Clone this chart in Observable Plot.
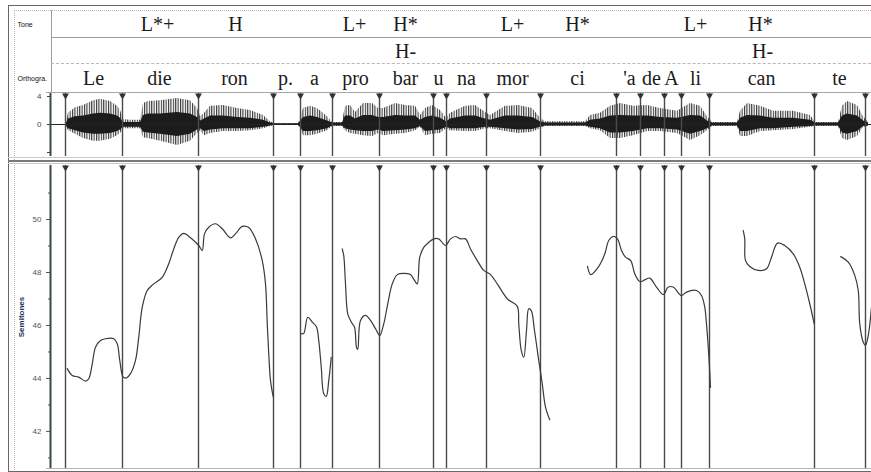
<!DOCTYPE html>
<html><head><meta charset="utf-8">
<script src="https://cdn.jsdelivr.net/npm/d3@7"></script>
<script src="https://cdn.jsdelivr.net/npm/@observablehq/plot@0.6"></script>
<style>
body{margin:0;background:#fff;}
#root{position:relative;width:871px;height:472px;overflow:hidden;font-family:"Liberation Sans",Arial,sans-serif;background:#fff;}
.abs{position:absolute;}
</style></head><body><div id="root"></div>
<script>
// ---- time in ms ----
const boundaries = [60,288,592,892,1000,1128,1316,1532,1584,1744,1960,2264,2360,2456,2524,2636,3056,3260];

const toneLabels = ["L*+","H","L+","H*","L+","H*","L+","H*"];
const toneTimes  = [428,740,1216,1420,1848,2108,2580,2840];
const phraseLabels = ["H-","H-"];
const phraseTimes  = [1420,2848];
const syllables = ["Le","die","ron","p.","a","pro","bar","u","na","mor","ci","'a","de","A","li","can","te"];
const syllableTimes = [172,436,736,940,1056,1220,1420,1552,1664,1848,2108,2316,2404,2484,2580,2844,3156];

const tierNames = ["Tone","Phrase","Orthogr."];
const tierAxisLabels = ["Tone","","Orthogra."];

// waveform envelope (amplitude units)
const waveT = [64,72,100,132,172,200,240,268,280,292,320,360,372,392,440,508,560,588,600,616,640,692,748,800,852,880,900,992,1012,1040,1068,1108,1128,1168,1180,1200,1220,1252,1288,1312,1332,1380,1420,1460,1480,1500,1528,1560,1584,1600,1660,1700,1740,1760,1820,1872,1928,1960,1980,2140,2160,2200,2240,2280,2332,2388,2440,2508,2560,2600,2628,2648,2748,2760,2788,2840,2892,2972,3040,3060,3152,3168,3188,3228,3252,3272];
const waveHi = [0.4,1.6,2.4,2.7,3.4,3.6,3.3,2.6,2.0,0.7,0.6,0.6,3.0,3.3,3.4,3.7,3.4,2.3,1.1,1.6,2.6,2.7,2.3,2.0,1.3,0.4,0.1,0.1,2.3,2.6,2.3,1.1,0.3,0.3,2.6,2.7,1.7,3.0,3.0,2.3,2.3,3.0,2.7,2.6,1.3,2.3,2.7,2.0,0.9,1.6,2.6,2.7,1.7,1.3,2.6,2.7,2.3,0.9,0.4,0.4,1.3,1.6,2.6,3.0,2.6,2.7,2.3,1.9,3.0,2.6,1.1,0.3,0.3,1.9,3.0,2.6,1.9,1.9,1.3,0.3,0.3,2.6,3.3,2.7,1.1,0.3];
const waveLo = [-0.4,-0.9,-1.4,-2.0,-2.4,-2.4,-2.1,-1.6,-1.3,-0.6,-0.6,-0.6,-1.9,-2.0,-2.4,-3.0,-2.4,-1.3,-0.9,-1.6,-1.3,-1.0,-1.0,-0.9,-0.6,-0.3,-0.1,-0.1,-1.6,-1.6,-1.4,-0.9,-0.3,-0.3,-0.9,-1.3,-1.4,-1.6,-1.7,-1.3,-1.6,-1.4,-1.3,-0.9,-0.4,-1.6,-1.4,-1.3,-0.6,-0.9,-1.0,-1.0,-0.6,-0.6,-1.0,-1.3,-1.1,-0.6,-0.3,-0.3,-0.6,-0.9,-2.0,-2.0,-1.6,-1.0,-1.0,-1.3,-2.3,-1.6,-0.9,-0.3,-0.3,-1.7,-1.7,-1.0,-0.9,-0.7,-0.4,-0.3,-0.3,-2.0,-2.3,-1.7,-0.4,-0.3];
const coreHi = [0.2,0.8,1.1,1.2,1.5,1.6,1.5,1.2,0.9,0.3,0.3,0.3,1.3,1.5,1.5,1.7,1.5,1.0,0.5,0.8,1.2,1.2,1.0,0.9,0.6,0.2,0.1,0.1,1.0,1.2,1.0,0.5,0.2,0.2,1.2,1.2,0.8,1.3,1.3,1.0,1.0,1.3,1.2,1.2,0.6,1.0,1.2,0.9,0.4,0.8,1.2,1.2,0.8,0.6,1.2,1.2,1.0,0.4,0.2,0.2,0.6,0.8,1.2,1.3,1.2,1.2,1.0,0.9,1.3,1.2,0.5,0.2,0.2,0.9,1.3,1.2,0.9,0.9,0.6,0.2,0.2,1.2,1.5,1.2,0.5,0.2];
const coreLo = [-0.3,-0.6,-0.9,-1.2,-1.4,-1.4,-1.3,-1.0,-0.8,-0.4,-0.4,-0.4,-1.1,-1.2,-1.4,-1.7,-1.4,-0.8,-0.6,-1.0,-0.8,-0.6,-0.6,-0.6,-0.4,-0.2,-0.1,-0.1,-1.0,-1.0,-0.9,-0.6,-0.2,-0.2,-0.6,-0.8,-0.9,-1.0,-1.0,-0.8,-1.0,-0.9,-0.8,-0.6,-0.3,-1.0,-0.9,-0.8,-0.4,-0.6,-0.6,-0.6,-0.4,-0.4,-0.6,-0.8,-0.7,-0.4,-0.2,-0.2,-0.4,-0.6,-1.2,-1.2,-1.0,-0.6,-0.6,-0.8,-1.4,-1.0,-0.6,-0.2,-0.2,-1.0,-1.0,-0.6,-0.6,-0.4,-0.3,-0.2,-0.2,-1.2,-1.4,-1.0,-0.3,-0.2];

// pitch contours (semitones)
const pitchT1 = [67,87,113,140,153,167,180,200,220,253,267,277,291,304,320,340,353,367,387,413,447,473,493,513,533,560,593,607,616,633,660,687,720,740,767,793,820,847,860,867,873,880,891];
const pitchSt1 = [44.37,44.11,44.05,43.9,43.99,44.55,45.18,45.43,45.5,45.5,45.31,44.68,44.05,44.02,44.18,44.68,45.56,46.69,47.32,47.57,47.82,48.33,48.89,49.33,49.48,49.31,49.02,48.83,49.46,49.71,49.84,49.65,49.31,49.46,49.74,49.7,49.27,48.45,47.57,46.06,44.93,43.92,43.3];
const pitchT2 = [1003,1013,1029,1047,1064,1073,1083,1093,1103,1113,1123];
const pitchSt2 = [45.69,45.7,46.31,46.13,45.94,45.43,44.43,43.42,43.32,43.92,44.8];
const pitchT3 = [1167,1173,1180,1189,1203,1216,1224,1229,1240,1260,1280,1300,1317,1333,1349,1367,1387,1413,1440,1456,1467,1477,1493,1513,1533,1553,1580,1600,1620,1640,1660,1680,1707,1733,1760,1787,1827,1867,1873,1883,1893,1904,1913,1923,1936,1953,1967,1980,1997];
const pitchSt3 = [48.89,48.64,47.57,46.44,46.13,45.94,45.18,45.1,46.19,46.38,46.19,45.88,45.62,46.06,46.82,47.57,47.92,47.97,47.92,47.7,47.57,48.58,48.95,49.14,49.27,49.27,49.02,49.27,49.36,49.27,49.27,48.89,48.45,48.08,47.92,47.57,47.01,46.72,46.06,45.06,44.8,45.81,46.63,46.56,45.81,44.68,43.8,42.92,42.44];
const pitchT4 = [2148,2161,2191,2217,2233,2251,2268,2284,2300,2321,2337,2357,2377,2397,2424,2451,2471,2491,2524,2544,2584,2604,2617,2624,2631,2636,2640];
const pitchSt4 = [48.23,47.92,48.2,48.7,49.21,49.36,49.27,48.83,48.58,48.45,47.95,47.66,47.72,47.79,47.45,47.17,47.45,47.45,47.13,47.26,47.32,47.13,46.69,46.06,45.18,44.43,43.67];
const pitchT5 = [2771,2777,2780,2797,2831,2864,2884,2908,2937,2971,2997,3017,3037,3055];
const pitchSt5 = [49.58,49.27,48.45,48.23,48.08,48.14,48.58,49.11,49.02,48.7,48.2,47.57,46.82,46.06];
const pitchT6 = [3161,3191,3217,3231,3237,3251,3260,3271,3284];
const pitchSt6 = [48.6,48.39,47.89,47.32,46.06,45.37,45.25,45.62,46.7];

const majorTicks = [42,44,46,48,50];
const minorTicks = [41,43,45,47,49,51];
const waveTicks = [-4,0,4];

// ---- build tables ----
const tierRows = [
  ...toneLabels.map((label,i)=>({tier:"Tone",t:toneTimes[i],label})),
  ...phraseLabels.map((label,i)=>({tier:"Phrase",t:phraseTimes[i],label})),
  ...syllables.map((label,i)=>({tier:"Orthogr.",t:syllableTimes[i],label}))
];
const waveRows = waveT.map((t,i)=>({t,hi:waveHi[i],lo:waveLo[i],chi:coreHi[i],clo:coreLo[i]}));
const pitchRows = [];
[[pitchT1,pitchSt1],[pitchT2,pitchSt2],[pitchT3,pitchSt3],[pitchT4,pitchSt4],[pitchT5,pitchSt5],[pitchT6,pitchSt6]]
  .forEach(([T,S],k)=>T.forEach((t,i)=>pitchRows.push({seg:k,t,st:S[i]})));

const W = 871, X0 = 50;
const xScale = {domain:[0,3284], axis:null};
const baseStyle = {background:"transparent", overflow:"visible", fontFamily:"Liberation Sans, Arial, sans-serif"};
const root = document.getElementById("root");

function box(css){ const d=document.createElement("div"); d.className="abs"; d.style.cssText=css; root.appendChild(d); return d; }
function place(svg, top){ const d=box(`left:0;top:${top}px;`); d.appendChild(svg); }

// decorations (frames)
box("left:8px;top:5px;width:900px;height:465px;border:1px solid #6e6262;");
box("left:14px;top:10px;width:900px;height:459px;border-left:1px dotted #aeb9cc;border-top:1px dotted #c4b3bb;");
box("left:51px;top:10px;height:83px;border-left:1px solid #a09a9a;");
box("left:51px;top:37px;width:830px;border-top:1px solid #9c9c9c;");
box("left:51px;top:63px;width:830px;border-top:1px dashed #c7b0b6;");
box("left:46px;top:92px;width:830px;border-top:1px solid #a7a7a7;");
box("left:8px;top:157px;width:870px;border-top:1px solid #c9c9c9;");
box("left:8px;top:160px;width:870px;border-top:2px solid #7a7a7a;");
box("left:8px;top:163px;width:870px;border-top:1px solid #c9c9c9;");
box("left:46px;top:468px;width:830px;border-top:1px solid #b5b5b5;");

// tiers
const tiers = Plot.plot({
  width:W, height:83, marginLeft:X0, marginRight:0, marginTop:0, marginBottom:0,
  style:baseStyle,
  x:xScale,
  y:{domain:tierNames, type:"band", padding:0},
  marks:[
    Plot.axisY({tickSize:0, tickPadding:0, textAnchor:"start", dx:-33, fontSize:7, fill:"#111",
      tickFormat:d=>tierAxisLabels[tierNames.indexOf(d)], label:null}),
    Plot.text(tierRows, {x:"t", y:"tier", text:"label", fontFamily:"Liberation Serif, serif", fontSize:20, fill:"#1b1b1b"})
  ]
});
place(tiers, 10);

// waveform
const wave = Plot.plot({
  width:W, height:63, marginLeft:X0, marginRight:0, marginTop:0, marginBottom:0,
  style:baseStyle,
  x:xScale,
  y:{domain:[-4.57,4.43]},
  marks:[
    Plot.areaY(waveRows, {x:"t", y1:"lo", y2:"hi", fill:"url(#wstripe)"}),
    Plot.areaY(waveRows, {x:"t", y1:"clo", y2:"chi", fill:"#1c1c1c"}),
    Plot.ruleY([0], {stroke:"#222", strokeWidth:1}),
    Plot.ruleX(boundaries, {stroke:"#4a4a4a", strokeWidth:1.4}),
    Plot.dot(boundaries, {x:d=>d, frameAnchor:"top", symbol:"triangle", rotate:180, r:2.6, fill:"#333", stroke:"none", dy:2}),
    Plot.axisY({ticks:waveTicks, tickSize:3, fontSize:8, fill:"#444", stroke:"#444", tickFormat:d=>d<0?"":String(d), label:null}),
    Plot.ruleX([0], {stroke:"#3b4848", strokeWidth:2})
  ]
});
const defs = d3.select(wave).insert("defs", ":first-child");
const pat = defs.append("pattern").attr("id","wstripe").attr("patternUnits","userSpaceOnUse").attr("width",2.4).attr("height",10);
pat.append("rect").attr("x",0).attr("y",0).attr("width",1.1).attr("height",10).attr("fill","#333");
place(wave, 93);

// pitch
const pitch = Plot.plot({
  width:W, height:303, marginLeft:X0, marginRight:0, marginTop:0, marginBottom:0,
  style:baseStyle,
  x:xScale,
  y:{domain:[40.6,52.04]},
  marks:[
    Plot.ruleX(boundaries, {stroke:"#4a4a4a", strokeWidth:1.4}),
    Plot.dot(boundaries, {x:d=>d, frameAnchor:"top", symbol:"triangle", rotate:180, r:2.6, fill:"#333", stroke:"none", dy:2}),
    Plot.line(pitchRows, {x:"t", y:"st", z:"seg", stroke:"#3a3a3a", strokeWidth:1.2, curve:"catmull-rom"}),
    Plot.axisY({ticks:majorTicks, tickSize:4, fontSize:8, fill:"#555", stroke:"#555",
      label:"Semitones", labelAnchor:"center", labelArrow:"none", labelOffset:32}),
    Plot.axisY({ticks:minorTicks, tickSize:2, tickFormat:()=>"", stroke:"#555", label:null}),
    Plot.ruleX([0], {stroke:"#3b4848", strokeWidth:2})
  ]
});
d3.select(pitch).selectAll('[aria-label="y-axis label"]')
  .attr("fill","#22335a").attr("font-weight","bold").attr("font-size",8)
  .selectAll("text").attr("fill","#22335a").attr("font-weight","bold").attr("font-size",8)
  .text("Semitones");
place(pitch, 165);
</script></body></html>
